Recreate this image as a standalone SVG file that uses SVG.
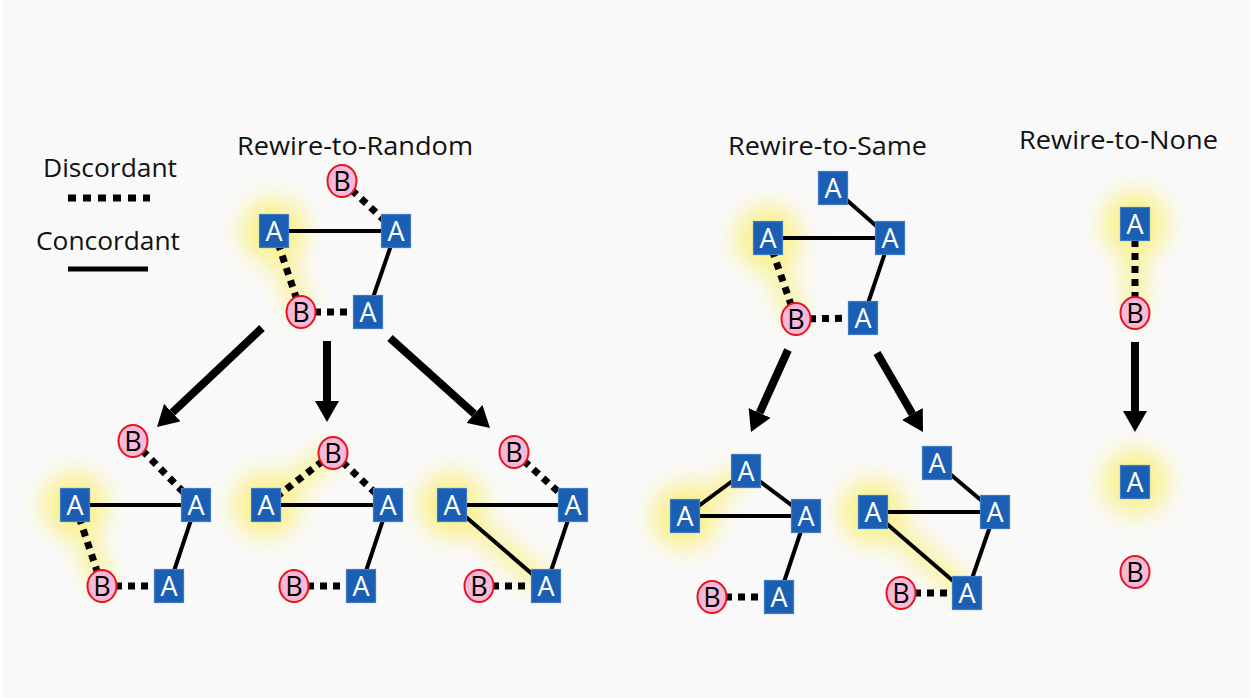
<svg xmlns="http://www.w3.org/2000/svg" width="1253" height="698" viewBox="0 0 1253 698">
<style>
.title{font-family:"Open Sans","Liberation Sans",sans-serif;font-size:25px;fill:#111;}
.na rect{fill:#1a5fb4;stroke:#3f7bc4;stroke-width:1.2;}
.na text{font-family:"Open Sans","Liberation Sans",sans-serif;font-size:27px;fill:#fff;text-anchor:middle;}
.nb ellipse{fill:#f6b9da;stroke:#e8141c;stroke-width:2;}
.nb text{font-family:"Open Sans","Liberation Sans",sans-serif;font-size:27px;fill:#000;text-anchor:middle;}
.solid{stroke:#000;stroke-width:4;fill:none;}
.dot{stroke:#000;stroke-width:7;stroke-dasharray:7 6;fill:none;}
.arrow{stroke:#000;stroke-width:8;fill:none;marker-end:url(#head);}
.glow{fill:#faf080;stroke:#faf080;}
</style>
<defs>
<marker id="head" viewBox="0 -12 21 24" refX="0" refY="0" markerUnits="userSpaceOnUse" markerWidth="21" markerHeight="24" orient="auto">
<path d="M0,-12 L21,0 L0,12 z" fill="#000"/>
</marker>
<filter id="blur" x="-60%" y="-60%" width="220%" height="220%"><feGaussianBlur stdDeviation="11"/></filter>
</defs>
<rect x="0" y="0" width="1253" height="698" fill="#ffffff"/>
<rect x="3" y="0" width="1247" height="698" fill="#f9f9f9"/>

<g id="highlights" filter="url(#blur)" opacity="0.85">
<circle class="glow" cx="274" cy="231" r="33"/><line class="glow" x1="274" y1="231" x2="301" y2="312" stroke-width="20"/>
<circle class="glow" cx="75" cy="505" r="33"/><line class="glow" x1="75" y1="505" x2="102" y2="586" stroke-width="20"/>
<circle class="glow" cx="266" cy="505" r="33"/><line class="glow" x1="266" y1="505" x2="333" y2="453" stroke-width="20"/>
<circle class="glow" cx="452" cy="505" r="33"/><line class="glow" x1="452" y1="505" x2="546" y2="586" stroke-width="20"/>
<circle class="glow" cx="768" cy="238" r="33"/><line class="glow" x1="768" y1="238" x2="796" y2="319" stroke-width="20"/>
<circle class="glow" cx="685" cy="516" r="33"/><line class="glow" x1="685" y1="516" x2="746" y2="471" stroke-width="20"/>
<circle class="glow" cx="873" cy="512" r="33"/><line class="glow" x1="873" y1="512" x2="967" y2="593" stroke-width="20"/>
<circle class="glow" cx="1135" cy="224" r="33"/><line class="glow" x1="1135" y1="224" x2="1135" y2="313" stroke-width="20"/>
<circle class="glow" cx="1135" cy="482" r="33"/>
</g>

<g id="titles">
<text class="title" x="237" y="155" textLength="236" lengthAdjust="spacingAndGlyphs">Rewire-to-Random</text>
<text class="title" x="728" y="155" textLength="199" lengthAdjust="spacingAndGlyphs">Rewire-to-Same</text>
<text class="title" x="1019" y="149" textLength="199" lengthAdjust="spacingAndGlyphs">Rewire-to-None</text>
</g>

<g id="legend">
<text class="title" x="43" y="177" textLength="134" lengthAdjust="spacingAndGlyphs">Discordant</text>
<line x1="68" y1="198" x2="150" y2="198" stroke="#000" stroke-width="7" stroke-dasharray="8 7"/>
<text class="title" x="36" y="250" textLength="144" lengthAdjust="spacingAndGlyphs">Concordant</text>
<line x1="68" y1="269" x2="148" y2="269" stroke="#000" stroke-width="5"/>
</g>

<g id="connectors">
<line class="dot" x1="342" y1="181" x2="396" y2="231"/>
<line class="solid" x1="274" y1="231" x2="396" y2="231"/>
<line class="solid" x1="396" y1="231" x2="368" y2="312"/>
<line class="dot" x1="274" y1="231" x2="301" y2="312"/>
<line class="dot" x1="301" y1="312" x2="368" y2="312"/>
<line class="dot" x1="133" y1="441" x2="196" y2="505"/>
<line class="solid" x1="75" y1="505" x2="196" y2="505"/>
<line class="solid" x1="196" y1="505" x2="169" y2="586"/>
<line class="dot" x1="75" y1="505" x2="102" y2="586"/>
<line class="dot" x1="102" y1="586" x2="169" y2="586"/>
<line class="dot" x1="266" y1="505" x2="333" y2="453"/>
<line class="dot" x1="333" y1="453" x2="388" y2="505"/>
<line class="solid" x1="266" y1="505" x2="388" y2="505"/>
<line class="solid" x1="388" y1="505" x2="361" y2="586"/>
<line class="dot" x1="294" y1="586" x2="361" y2="586"/>
<line class="dot" x1="514" y1="452" x2="573" y2="505"/>
<line class="solid" x1="452" y1="505" x2="573" y2="505"/>
<line class="solid" x1="452" y1="505" x2="546" y2="586"/>
<line class="solid" x1="573" y1="505" x2="546" y2="586"/>
<line class="dot" x1="479" y1="586" x2="546" y2="586"/>
<line class="solid" x1="833" y1="188" x2="890" y2="238"/>
<line class="solid" x1="768" y1="238" x2="890" y2="238"/>
<line class="solid" x1="890" y1="238" x2="863" y2="318"/>
<line class="dot" x1="768" y1="238" x2="796" y2="319"/>
<line class="dot" x1="796" y1="319" x2="863" y2="318"/>
<line class="solid" x1="685" y1="516" x2="746" y2="471"/>
<line class="solid" x1="746" y1="471" x2="806" y2="516"/>
<line class="solid" x1="685" y1="516" x2="806" y2="516"/>
<line class="solid" x1="806" y1="516" x2="779" y2="597"/>
<line class="dot" x1="712" y1="597" x2="779" y2="597"/>
<line class="solid" x1="937" y1="463" x2="995" y2="512"/>
<line class="solid" x1="873" y1="512" x2="995" y2="512"/>
<line class="solid" x1="873" y1="512" x2="967" y2="593"/>
<line class="solid" x1="995" y1="512" x2="967" y2="593"/>
<line class="dot" x1="901" y1="593" x2="967" y2="593"/>
<line class="dot" x1="1135" y1="240" x2="1135" y2="298"/>
<line class="arrow" x1="262" y1="328" x2="172.3" y2="412.6"/>
<line class="arrow" x1="327" y1="341" x2="327" y2="401"/>
<line class="arrow" x1="390" y1="338" x2="474.4" y2="413.9"/>
<line class="arrow" x1="788" y1="350" x2="759.6" y2="412.9"/>
<line class="arrow" x1="877" y1="353" x2="912.4" y2="413.9"/>
<line class="arrow" x1="1135" y1="342" x2="1135" y2="411"/>
</g>

<g id="rt-b1" class="nb"><ellipse cx="342" cy="181" rx="14.5" ry="16"/><text x="342" y="191">B</text></g>
<g id="rt-a1" class="na"><rect x="259.5" y="214.5" width="29" height="33"/><text x="274" y="241">A</text></g>
<g id="rt-a2" class="na"><rect x="381.5" y="214.5" width="29" height="33"/><text x="396" y="241">A</text></g>
<g id="rt-a3" class="na"><rect x="353.5" y="295.5" width="29" height="33"/><text x="368" y="322">A</text></g>
<g id="rt-b2" class="nb"><ellipse cx="301" cy="312" rx="14.5" ry="16"/><text x="301" y="322">B</text></g>
<g id="r1-b1" class="nb"><ellipse cx="133" cy="441" rx="14.5" ry="16"/><text x="133" y="451">B</text></g>
<g id="r1-a1" class="na"><rect x="60.5" y="488.5" width="29" height="33"/><text x="75" y="515">A</text></g>
<g id="r1-a2" class="na"><rect x="181.5" y="488.5" width="29" height="33"/><text x="196" y="515">A</text></g>
<g id="r1-a3" class="na"><rect x="154.5" y="569.5" width="29" height="33"/><text x="169" y="596">A</text></g>
<g id="r1-b2" class="nb"><ellipse cx="102" cy="586" rx="14.5" ry="16"/><text x="102" y="596">B</text></g>
<g id="r2-b1" class="nb"><ellipse cx="333" cy="453" rx="14.5" ry="16"/><text x="333" y="463">B</text></g>
<g id="r2-a1" class="na"><rect x="251.5" y="488.5" width="29" height="33"/><text x="266" y="515">A</text></g>
<g id="r2-a2" class="na"><rect x="373.5" y="488.5" width="29" height="33"/><text x="388" y="515">A</text></g>
<g id="r2-a3" class="na"><rect x="346.5" y="569.5" width="29" height="33"/><text x="361" y="596">A</text></g>
<g id="r2-b2" class="nb"><ellipse cx="294" cy="586" rx="14.5" ry="16"/><text x="294" y="596">B</text></g>
<g id="r3-b1" class="nb"><ellipse cx="514" cy="452" rx="14.5" ry="16"/><text x="514" y="462">B</text></g>
<g id="r3-a1" class="na"><rect x="437.5" y="488.5" width="29" height="33"/><text x="452" y="515">A</text></g>
<g id="r3-a2" class="na"><rect x="558.5" y="488.5" width="29" height="33"/><text x="573" y="515">A</text></g>
<g id="r3-a3" class="na"><rect x="531.5" y="569.5" width="29" height="33"/><text x="546" y="596">A</text></g>
<g id="r3-b2" class="nb"><ellipse cx="479" cy="586" rx="14.5" ry="16"/><text x="479" y="596">B</text></g>
<g id="st-a0" class="na"><rect x="818.5" y="171.5" width="29" height="33"/><text x="833" y="198">A</text></g>
<g id="st-a1" class="na"><rect x="753.5" y="221.5" width="29" height="33"/><text x="768" y="248">A</text></g>
<g id="st-a2" class="na"><rect x="875.5" y="221.5" width="29" height="33"/><text x="890" y="248">A</text></g>
<g id="st-a3" class="na"><rect x="848.5" y="301.5" width="29" height="33"/><text x="863" y="328">A</text></g>
<g id="st-b" class="nb"><ellipse cx="796" cy="319" rx="14.5" ry="16"/><text x="796" y="329">B</text></g>
<g id="s1-a0" class="na"><rect x="731.5" y="454.5" width="29" height="33"/><text x="746" y="481">A</text></g>
<g id="s1-a1" class="na"><rect x="670.5" y="499.5" width="29" height="33"/><text x="685" y="526">A</text></g>
<g id="s1-a2" class="na"><rect x="791.5" y="499.5" width="29" height="33"/><text x="806" y="526">A</text></g>
<g id="s1-a3" class="na"><rect x="764.5" y="580.5" width="29" height="33"/><text x="779" y="607">A</text></g>
<g id="s1-b" class="nb"><ellipse cx="712" cy="597" rx="14.5" ry="16"/><text x="712" y="607">B</text></g>
<g id="s2-a0" class="na"><rect x="922.5" y="446.5" width="29" height="33"/><text x="937" y="473">A</text></g>
<g id="s2-a1" class="na"><rect x="858.5" y="495.5" width="29" height="33"/><text x="873" y="522">A</text></g>
<g id="s2-a2" class="na"><rect x="980.5" y="495.5" width="29" height="33"/><text x="995" y="522">A</text></g>
<g id="s2-a3" class="na"><rect x="952.5" y="576.5" width="29" height="33"/><text x="967" y="603">A</text></g>
<g id="s2-b" class="nb"><ellipse cx="901" cy="593" rx="14.5" ry="16"/><text x="901" y="603">B</text></g>
<g id="n-a1" class="na"><rect x="1120.5" y="207.5" width="29" height="33"/><text x="1135" y="234">A</text></g>
<g id="n-b1" class="nb"><ellipse cx="1135" cy="313" rx="14.5" ry="16"/><text x="1135" y="323">B</text></g>
<g id="n-a2" class="na"><rect x="1120.5" y="465.5" width="29" height="33"/><text x="1135" y="492">A</text></g>
<g id="n-b2" class="nb"><ellipse cx="1135" cy="572" rx="14.5" ry="16"/><text x="1135" y="582">B</text></g>
</svg>
